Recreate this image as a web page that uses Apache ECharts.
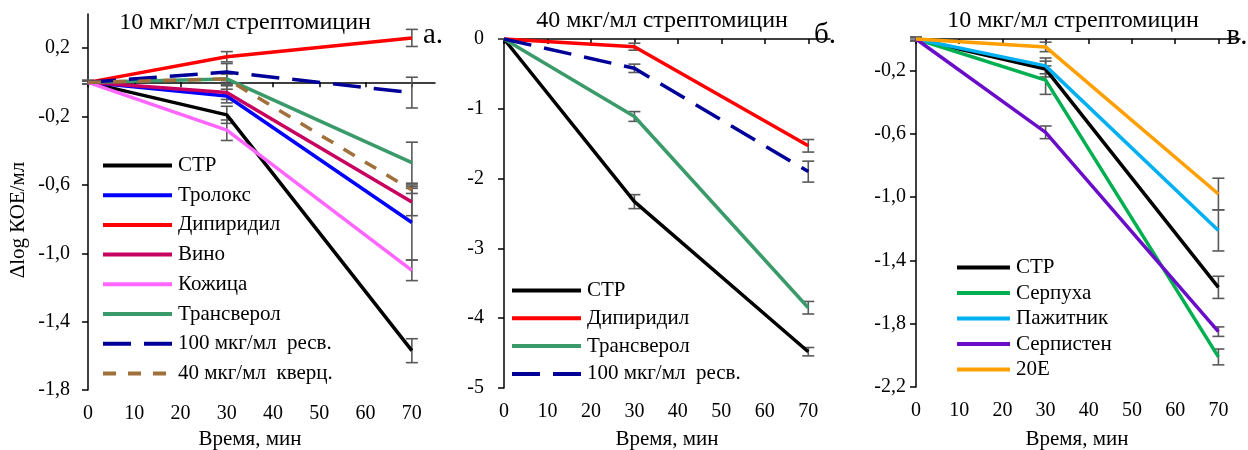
<!DOCTYPE html>
<html>
<head>
<meta charset="utf-8">
<script src="https://cdn.jsdelivr.net/npm/echarts@6/dist/echarts.min.js"></script>
<style>
html,body{margin:0;padding:0;background:#fff;}
#c{width:1248px;height:450px;}
</style>
</head>
<body>
<div id="c"></div>
<script>
// ---------- DATA ----------
const time = [0, 30, 70];
const xTicks = [0, 10, 20, 30, 40, 50, 60, 70];

// Panel а (10 мкг/мл стрептомицин)
const namesA = ['СТР', 'Тролокс', 'Дипиридил', 'Вино', 'Кожица', 'Трансверол', '100 мкг/мл  ресв.', '40 мкг/мл  кверц.'];
const a_CTP   = [0, -0.19, -1.57];
const a_Trol  = [0, -0.08, -0.82];
const a_Dip   = [0, 0.15, 0.26];
const a_Vino  = [0, -0.06, -0.70];
const a_Kozh  = [0, -0.28, -1.10];
const a_Trans = [0, 0.02, -0.47];
const a_Res   = [0, 0.06, -0.06];
const a_Kverc = [0, 0.02, -0.63];
const a_errCTP   = [0.01, 0.05, 0.07];
const a_errTrol  = [0.01, 0.04, 0.22];
const a_errDip   = [0.01, 0.03, 0.05];
const a_errVino  = [0.01, 0.04, 0.08];
const a_errKozh  = [0.01, 0.06, 0.06];
const a_errTrans = [0.01, 0.03, 0.12];
const a_errRes   = [0.01, 0.05, 0.09];
const a_errKverc = [0.01, 0.03, 0.02];
const yTicksA = [-1.8, -1.4, -1.0, -0.6, -0.2, 0.2];

// Panel б (40 мкг/мл стрептомицин)
const namesB = ['СТР', 'Дипиридил', 'Трансверол', '100 мкг/мл  ресв.'];
const b_CTP   = [0, -2.33, -4.48];
const b_Dip   = [0, -0.11, -1.53];
const b_Trans = [0, -1.11, -3.85];
const b_Res   = [0, -0.42, -1.90];
const b_errCTP   = [0, 0.10, 0.06];
const b_errDip   = [0, 0.05, 0.09];
const b_errTrans = [0, 0.07, 0.09];
const b_errRes   = [0, 0.06, 0.15];
const yTicksB = [-5, -4, -3, -2, -1, 0];

// Panel в (10 мкг/мл стрептомицин)
const namesC = ['СТР', 'Серпуха', 'Пажитник', 'Серпистен', '20E'];
const c_CTP   = [0, -0.19, -1.57];
const c_Serp  = [0, -0.26, -2.01];
const c_Pazh  = [0, -0.17, -1.21];
const c_Serpi = [0, -0.59, -1.85];
const c_20E   = [0, -0.05, -0.98];
const c_errCTP   = [0.01, 0.05, 0.07];
const c_errSerp  = [0.01, 0.09, 0.05];
const c_errPazh  = [0.01, 0.05, 0.13];
const c_errSerpi = [0.01, 0.04, 0.03];
const c_err20E   = [0.01, 0.03, 0.10];
const yTicksC = [-2.2, -1.8, -1.4, -1.0, -0.6, -0.2];

// ---------- STYLE ----------
const FONT = "'Liberation Serif', 'Times New Roman', serif";
const ERR = '#595959';
const TICK_FS = 20, LEG_FS = 21;

function pts(vals){ return time.map((t,i)=>[t, vals[i]]); }
function errPts(vals, errs){ return time.map((t,i)=>[t, vals[i]-errs[i], vals[i]+errs[i]]); }

function line(name, idx, vals, color, dash){
  return {
    type:'line', name:name, xAxisIndex:idx, yAxisIndex:idx,
    data:pts(vals), symbol:'none', z:3, clip:false,
    lineStyle:{color:color, width:3.5, type: dash || 'solid'},
    itemStyle:{color:color}
  };
}
function errSeries(idx, vals, errs){
  return {
    type:'custom', xAxisIndex:idx, yAxisIndex:idx, z:2, silent:true,
    data:errPts(vals, errs),
    renderItem:function(params, api){
      const x = api.value(0);
      const lo = api.coord([x, api.value(1)]);
      const hi = api.coord([x, api.value(2)]);
      const w = 6;
      const st = {stroke:ERR, lineWidth:1.6};
      return {type:'group', children:[
        {type:'line', shape:{x1:lo[0], y1:lo[1], x2:hi[0], y2:hi[1]}, style:st},
        {type:'line', shape:{x1:lo[0]-w, y1:lo[1], x2:lo[0]+w, y2:lo[1]}, style:st},
        {type:'line', shape:{x1:hi[0]-w, y1:hi[1], x2:hi[0]+w, y2:hi[1]}, style:st}
      ]};
    }
  };
}

function fmt1(v){ return v.toFixed(1).replace('.', ','); }

function xAx(idx){
  return {
    type:'value', gridIndex:idx, min:0, max:75,
    axisLine:{lineStyle:{color:'#000', width:1.5}},
    axisTick:{show:true, length:5, customValues:xTicks, lineStyle:{color:'#000', width:1.5}},
    axisLabel:{customValues:xTicks, color:'#000', fontFamily:FONT, fontSize:TICK_FS, margin:14},
    splitLine:{show:false}
  };
}
function yAx(idx, min, max, ticks, fmt, margin){
  return {
    type:'value', gridIndex:idx, min:min, max:max,
    axisLine:{show:true, onZero:false, lineStyle:{color:'#000', width:1.5}},
    axisTick:{show:true, length:6, customValues:ticks, lineStyle:{color:'#000', width:1.5}},
    axisLabel:{customValues:ticks, formatter:fmt, color:'#000', fontFamily:FONT, fontSize:TICK_FS, margin:margin},
    splitLine:{show:false}
  };
}
function legend(names, left, top, w, gap){
  return {
    data:names, orient:'vertical', left:left, top:top, padding:0,
    itemWidth:w, itemHeight:20, itemGap:gap, selectedMode:false,
    itemStyle:{opacity:0},
    lineStyle:{width:4},
    textStyle:{color:'#000', fontFamily:FONT, fontSize:LEG_FS, lineHeight:20, padding:[0,0,0,1]}
  };
}

const BLACK='#000000', BLUE='#0000FF', RED='#FF0000', WINE='#C8005F', PINK='#FF66FF',
      SEAGREEN='#3A9A6A', NAVY='#000099', BROWN='#A0703A',
      GREEN='#00B050', CYAN='#00B0F0', PURPLE='#6A0DC8', ORANGE='#FF9F00';
const DASH_L = [28, 13];
const DASH_S = [13, 12];

const series = [
  errSeries(0, a_CTP, a_errCTP), errSeries(0, a_Trol, a_errTrol), errSeries(0, a_Dip, a_errDip),
  errSeries(0, a_Vino, a_errVino), errSeries(0, a_Kozh, a_errKozh), errSeries(0, a_Trans, a_errTrans),
  errSeries(0, a_Res, a_errRes), errSeries(0, a_Kverc, a_errKverc),
  line(namesA[0], 0, a_CTP, BLACK),
  line(namesA[1], 0, a_Trol, BLUE),
  line(namesA[2], 0, a_Dip, RED),
  line(namesA[3], 0, a_Vino, WINE),
  line(namesA[4], 0, a_Kozh, PINK),
  line(namesA[5], 0, a_Trans, SEAGREEN),
  line(namesA[6], 0, a_Res, NAVY, DASH_L),
  line(namesA[7], 0, a_Kverc, BROWN, DASH_S),

  errSeries(1, b_CTP, b_errCTP), errSeries(1, b_Dip, b_errDip),
  errSeries(1, b_Trans, b_errTrans), errSeries(1, b_Res, b_errRes),
  line(namesB[0], 1, b_CTP, BLACK),
  line(namesB[1], 1, b_Dip, RED),
  line(namesB[2], 1, b_Trans, SEAGREEN),
  line(namesB[3], 1, b_Res, NAVY, DASH_L),

  errSeries(2, c_CTP, c_errCTP), errSeries(2, c_Serp, c_errSerp), errSeries(2, c_Pazh, c_errPazh),
  errSeries(2, c_Serpi, c_errSerpi), errSeries(2, c_20E, c_err20E),
  line(namesC[0], 2, c_CTP, BLACK),
  line(namesC[1], 2, c_Serp, GREEN),
  line(namesC[2], 2, c_Pazh, CYAN),
  line(namesC[3], 2, c_Serpi, PURPLE),
  line(namesC[4], 2, c_20E, ORANGE)
];

function txt(text, x, y, size, rot){
  return {type:'text', x:x, y:y, rotation:rot||0,
    style:{text:text, fill:'#000', font: size + 'px ' + FONT, textAlign:'center', textVerticalAlign:'middle'}};
}

const chart = echarts.init(document.getElementById('c'), null, {renderer:'canvas'});
chart.setOption({
  animation:false,
  backgroundColor:'#fff',
  grid:[
    {left:88, top:14, width:347, height:376},
    {left:504, top:39, width:326, height:349},
    {left:916, top:39, width:324, height:348}
  ],
  xAxis:[xAx(0), xAx(1), xAx(2)],
  yAxis:[
    yAx(0, -1.8, 0.4, yTicksA, fmt1, 18),
    yAx(1, -5, 0, yTicksB, v=>String(v), 20),
    yAx(2, -2.2, 0, yTicksC, fmt1, 10)
  ],
  legend:[
    legend(namesA, 101, 155, 69, 8.7),
    legend(namesB, 510, 280, 69, 6.8),
    legend(namesC, 955, 257, 53, 4.5)
  ],
  graphic:[
    txt('10 мкг/мл стрептомицин', 245, 23, 24),
    txt('40 мкг/мл стрептомицин', 662, 21, 24),
    txt('10 мкг/мл стрептомицин', 1073, 21, 24),
    txt('а.', 433, 35, 29),
    txt('б.', 825, 35, 29),
    txt('в.', 1237, 36, 29),
    txt('Время, мин', 250, 439, 21),
    txt('Время, мин', 667, 439, 21),
    txt('Время, мин', 1077, 439, 21),
    txt('Δlog КОЕ/мл', 18, 220, 21, Math.PI/2)
  ],
  series:series
});
</script>
</body>
</html>
